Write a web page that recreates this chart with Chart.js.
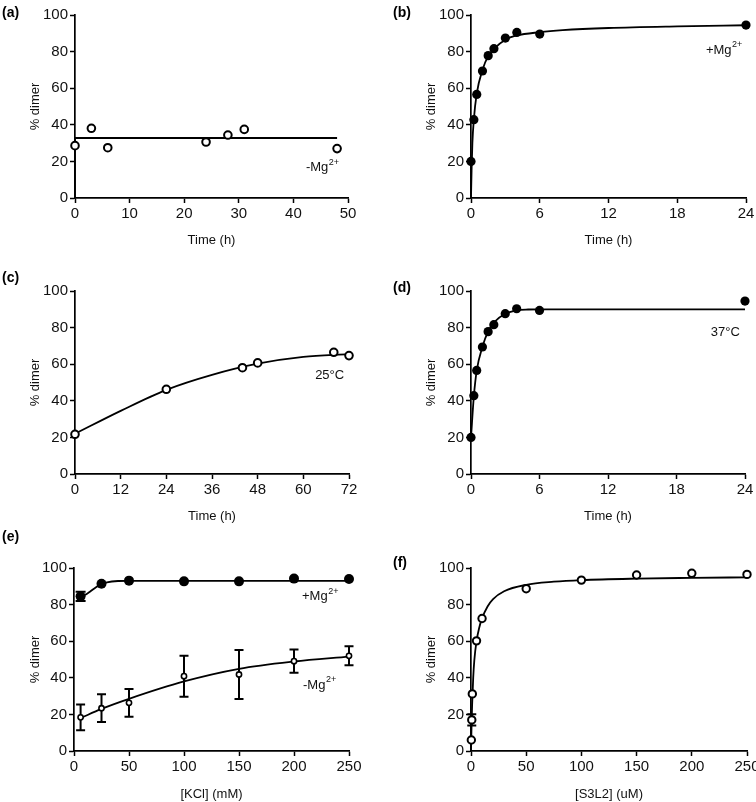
<!DOCTYPE html>
<html><head><meta charset="utf-8">
<script src="https://cdn.jsdelivr.net/npm/chart.js@4.4.1/dist/chart.umd.min.js"></script>
<style>
html,body{margin:0;padding:0;background:#fff;}
#wrap{position:relative;width:756px;height:802px;overflow:hidden;}
canvas{position:absolute;display:block;}
</style></head><body>
<div id="wrap">
<canvas id="ca" width="378" height="255" style="left:0;top:0;width:378px;height:255px"></canvas>
<canvas id="cb" width="378" height="255" style="left:378px;top:0;width:378px;height:255px"></canvas>
<canvas id="cc" width="378" height="270" style="left:0;top:255px;width:378px;height:270px"></canvas>
<canvas id="cd" width="378" height="270" style="left:378px;top:255px;width:378px;height:270px"></canvas>
<canvas id="ce" width="378" height="277" style="left:0;top:525px;width:378px;height:277px"></canvas>
<canvas id="cf" width="378" height="277" style="left:378px;top:525px;width:378px;height:277px"></canvas>
</div>
<script>
// ---------- DATA ----------
// (a) -Mg2+
const aTime = [0, 3, 6, 24, 28, 31, 48];
const aDimer = [28.6, 38.1, 27.5, 30.6, 34.4, 37.5, 27.0];
const aFitTime = [0, 0, 48];
const aFitDimer = [0, 32.8, 32.8];
// (b) +Mg2+
const bTime = [0, 0.25, 0.5, 1, 1.5, 2, 3, 4, 6, 24];
const bDimer = [20.0, 42.8, 56.6, 69.4, 77.8, 81.6, 87.4, 90.5, 89.6, 94.5];
const bFitTime = [0, 0.05, 0.12, 0.25, 0.5, 1, 1.5, 2, 3, 4, 6, 8, 12, 18, 24];
const bFitDimer = [0, 15, 30, 43, 57, 70, 77.5, 81.5, 86.5, 88.8, 90.6, 91.7, 92.9, 93.8, 94.4];
// (c) 25°C
const cTime = [0, 24, 44, 48, 68, 72];
const cDimer = [21.7, 46.3, 58.1, 60.7, 66.5, 64.7];
const cFitTime = [0, 12, 24, 36, 48, 60, 72];
const cFitDimer = [22, 34.5, 46, 54.2, 60.3, 64, 65.5];
// (d) 37°C
const dTime = [0, 0.25, 0.5, 1, 1.5, 2, 3, 4, 6, 24];
const dDimer = [20.0, 42.8, 56.6, 69.4, 77.8, 81.6, 87.6, 90.3, 89.4, 94.5];
const dFitTime = [0, 0.25, 0.5, 1, 1.5, 2, 3, 4, 5, 6, 24];
const dFitDimer = [20, 42.5, 56.5, 69.5, 78, 82.8, 87.6, 89.4, 89.9, 90, 90];
// (e) KCl
const eKCl = [6, 25, 50, 100, 150, 200, 250];
const ePlusMg = [84.5, 91.4, 93.1, 92.7, 92.7, 94.2, 94.0];
const ePlusErr = [2.5, 0, 0, 0, 0, 0, 0];
const eMinusMg = [18.4, 23.4, 26.3, 40.9, 41.8, 49.1, 52.0];
const eMinusErr = [7.0, 7.6, 7.6, 11.2, 13.4, 6.4, 5.2];
const ePlusFitKCl = [6, 10, 15, 20, 25, 30, 40, 50, 250];
const ePlusFitDimer = [84.5, 85.3, 87.3, 89.5, 91.2, 92.2, 92.9, 93, 93];
const eMinusFitKCl = [6, 25, 50, 100, 150, 200, 250];
const eMinusFitDimer = [18, 23, 28.5, 38, 44.9, 48.9, 51.6];
// (f) S3L2
const fConc = [0.3, 0.7, 1.2, 5, 10, 50, 100, 150, 200, 250];
const fDimer = [6.0, 17.0, 31.2, 60.2, 72.4, 88.7, 93.4, 96.2, 97.1, 96.5];
const fErr = [0, 3.1, 0, 0, 0, 0, 0, 0, 0, 0];
const fFitConc = [0, 0.5, 1, 2, 3, 5, 7.5, 10, 15, 20, 30, 50, 75, 100, 150, 200, 250];
const fFitDimer = [0, 14, 25, 40, 49.5, 60, 67.5, 72.5, 79, 83, 87.3, 90.8, 92.5, 93.4, 94.2, 94.6, 94.9];

// ---------- HELPERS ----------
const FONT = "'Liberation Sans', Arial, Helvetica, sans-serif";
const pts = (xs, ys) => xs.map((x, i) => ({x: x, y: ys[i]}));

const annotPlugin = {
  id: 'annot',
  afterDraw(chart, args, opts) {
    const ctx = chart.ctx;
    const sx = chart.scales.x, sy = chart.scales.y;
    ctx.save();
    ctx.fillStyle = '#111';
    ctx.textBaseline = 'middle';
    ctx.textAlign = 'left';
    (opts.labels || []).forEach(l => {
      const px = sx.getPixelForValue(l.x), py = sy.getPixelForValue(l.y);
      ctx.font = '13px ' + FONT;
      ctx.fillText(l.text, px, py);
      if (l.sup) {
        const w = ctx.measureText(l.text).width;
        ctx.font = '9px ' + FONT;
        ctx.fillText(l.sup, px + w + 0.5, py - 5);
      }
    });
    if (opts.panel) {
      ctx.font = 'bold 14px ' + FONT;
      ctx.fillStyle = '#000';
      ctx.fillText(opts.panel.text, opts.panel.x, opts.panel.y);
    }
    ctx.restore();
  }
};

const errPlugin = {
  id: 'errbars',
  beforeDatasetsDraw(chart, args, opts) {
    if (!opts.sets) return;
    const ctx = chart.ctx;
    const sx = chart.scales.x, sy = chart.scales.y;
    ctx.save();
    ctx.strokeStyle = '#000';
    ctx.lineWidth = 2;
    opts.sets.forEach(s => {
      s.x.forEach((xv, i) => {
        const e = s.err[i];
        if (!e) return;
        const px = sx.getPixelForValue(xv);
        const hi = sy.getPixelForValue(s.y[i] + e), lo = sy.getPixelForValue(s.y[i] - e);
        const cw = s.cap || 4.5;
        ctx.beginPath();
        ctx.moveTo(px, hi); ctx.lineTo(px, lo);
        ctx.moveTo(px - cw, hi); ctx.lineTo(px + cw, hi);
        ctx.moveTo(px - cw, lo); ctx.lineTo(px + cw, lo);
        ctx.stroke();
      });
    });
    ctx.restore();
  }
};

function pointSet(data, filled, r, bw) {
  return {
    data: data, showLine: false, clip: false,
    pointRadius: r, pointHoverRadius: r,
    pointBackgroundColor: filled ? '#000' : '#fff',
    pointBorderColor: '#000', pointBorderWidth: filled ? 0 : bw
  };
}
function lineSet(data, smooth) {
  return {
    data: data, showLine: true, clip: false, pointRadius: 0,
    borderColor: '#000', borderWidth: 1.8, fill: false,
    cubicInterpolationMode: smooth ? 'monotone' : 'default', tension: 0
  };
}

function makePanel(id, cfg) {
  const canvas = document.getElementById(id);
  const W = canvas.width, H = canvas.height;
  const A = cfg.area;
  return new Chart(canvas, {
    type: 'scatter',
    data: {datasets: cfg.datasets},
    options: {
      responsive: false, animation: false, events: [],
      layout: {padding: {left: 0, top: A.top, right: W - A.right, bottom: 0}},
      plugins: {
        legend: {display: false}, tooltip: {enabled: false},
        annot: {labels: cfg.labels, panel: cfg.panel},
        errbars: {sets: cfg.err}
      },
      scales: {
        x: {
          type: 'linear', min: cfg.xMin, max: cfg.xMax,
          ticks: {stepSize: cfg.xStep, color: '#111', font: {family: FONT, size: 15}, padding: 2, maxRotation: 0, autoSkip: false},
          grid: {display: true, drawOnChartArea: false, drawTicks: true, tickLength: 5, tickWidth: 1.5, tickColor: '#000'},
          border: {display: true, color: '#000', width: 1.7},
          title: {display: true, text: cfg.xTitle, color: '#111', font: {family: FONT, size: 13}, padding: {top: 0, bottom: cfg.xTitlePad}},
          afterFit(s) { s.height = H - A.bottom; s.paddingLeft = 0; s.paddingRight = 0; }
        },
        y: {
          type: 'linear', min: 0, max: 100,
          ticks: {stepSize: 20, color: '#111', font: {family: FONT, size: 15}, padding: 2},
          grid: {display: true, drawOnChartArea: false, drawTicks: true, tickLength: 5, tickWidth: 1.5, tickColor: '#000'},
          border: {display: true, color: '#000', width: 1.7},
          title: {display: true, text: '% dimer', color: '#111', font: {family: FONT, size: 13}, padding: {top: cfg.yTitlePad, bottom: 0}},
          afterFit(s) { s.width = A.left; s.paddingTop = 0; s.paddingBottom = 0; }
        }
      }
    },
    plugins: [annotPlugin, errPlugin]
  });
}

// ---------- PANELS ----------
makePanel('ca', {
  area: {left: 75, right: 348, top: 15, bottom: 198},
  xMin: 0, xMax: 50, xStep: 10, xTitle: 'Time (h)', xTitlePad: 7.2, yTitlePad: 27.2,
  datasets: [pointSet(pts(aTime, aDimer), false, 3.8, 2), lineSet(pts(aFitTime, aFitDimer), false)],
  labels: [{x: 42.3, y: 16.9, text: '-Mg', sup: '2+'}],
  panel: {text: '(a)', x: 2, y: 13}
});
makePanel('cb', {
  area: {left: 93, right: 368, top: 15, bottom: 198},
  xMin: 0, xMax: 24, xStep: 6, xTitle: 'Time (h)', xTitlePad: 7.2, yTitlePad: 45.2,
  datasets: [pointSet(pts(bTime, bDimer), true, 4.6, 0), lineSet(pts(bFitTime, bFitDimer), true)],
  labels: [{x: 20.5, y: 80.9, text: '+Mg', sup: '2+'}],
  panel: {text: '(b)', x: 15, y: 13}
});
makePanel('cc', {
  area: {left: 75, right: 349, top: 36, bottom: 219},
  xMin: 0, xMax: 72, xStep: 12, xTitle: 'Time (h)', xTitlePad: 0.5, yTitlePad: 27.2,
  datasets: [pointSet(pts(cTime, cDimer), false, 3.8, 2), lineSet(pts(cFitTime, cFitDimer), true)],
  labels: [{x: 63.1, y: 54.1, text: '25\u00B0C'}],
  panel: {text: '(c)', x: 2, y: 23}
});
makePanel('cd', {
  area: {left: 93, right: 367, top: 36, bottom: 219},
  xMin: 0, xMax: 24, xStep: 6, xTitle: 'Time (h)', xTitlePad: 0.5, yTitlePad: 45.2,
  datasets: [pointSet(pts(dTime, dDimer), true, 4.6, 0), lineSet(pts(dFitTime, dFitDimer), true)],
  labels: [{x: 21.0, y: 77.6, text: '37\u00B0C'}],
  panel: {text: '(d)', x: 15, y: 33}
});
makePanel('ce', {
  area: {left: 74, right: 349, top: 43, bottom: 226},
  xMin: 0, xMax: 250, xStep: 50, xTitle: '[KCl] (mM)', xTitlePad: 0.2, yTitlePad: 27.2,
  datasets: [
    pointSet(pts(eKCl, ePlusMg), true, 5, 0),
    pointSet(pts(eKCl, eMinusMg), false, 2.6, 1.6),
    lineSet(pts(ePlusFitKCl, ePlusFitDimer), true),
    lineSet(pts(eMinusFitKCl, eMinusFitDimer), true)
  ],
  err: [{x: eKCl, y: ePlusMg, err: ePlusErr, cap: 5}, {x: eKCl, y: eMinusMg, err: eMinusErr, cap: 4.5}],
  labels: [{x: 207.3, y: 84.2, text: '+Mg', sup: '2+'}, {x: 208.2, y: 36.1, text: '-Mg', sup: '2+'}],
  panel: {text: '(e)', x: 2, y: 12}
});
makePanel('cf', {
  area: {left: 93, right: 369, top: 43, bottom: 226},
  xMin: 0, xMax: 250, xStep: 50, xTitle: '[S3L2] (uM)', xTitlePad: 0.2, yTitlePad: 45.2,
  datasets: [pointSet(pts(fConc, fDimer), false, 3.7, 2), lineSet(pts(fFitConc, fFitDimer), true)],
  err: [{x: fConc, y: fDimer, err: fErr, cap: 4.5}],
  labels: [],
  panel: {text: '(f)', x: 15, y: 38}
});
</script>
</body></html>
